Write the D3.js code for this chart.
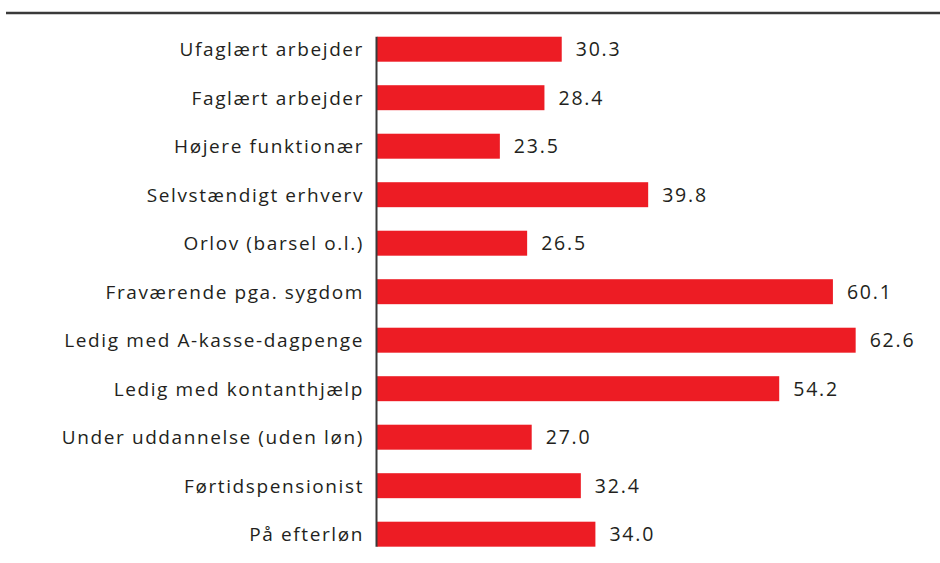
<!DOCTYPE html>
<html>
<head>
<meta charset="utf-8">
<script src="https://cdn.jsdelivr.net/npm/d3@7"></script>
<style>
  body { margin: 0; background: #fff; }
  text { font-family: 'Open Sans', sans-serif; fill: #231f20; }
</style>
</head>
<body>
<script>
const categories = [
  'Ufaglært arbejder',
  'Faglært arbejder',
  'Højere funktionær',
  'Selvstændigt erhverv',
  'Orlov (barsel o.l.)',
  'Fraværende pga. sygdom',
  'Ledig med A-kasse-dagpenge',
  'Ledig med kontanthjælp',
  'Under uddannelse (uden løn)',
  'Førtidspensionist',
  'På efterløn'
];
const values = [30.3, 28.4, 23.5, 39.8, 26.5, 60.1, 62.6, 54.2, 27.0, 32.4, 34.0];

const W = 940, H = 563;
const svg = d3.select('body').append('svg')
  .attr('width', W)
  .attr('height', H);

const xScale = d3.scaleLinear().domain([10, 70]).range([377, 923]);
const yScale = d3.scaleBand()
  .domain(categories)
  .range([13.2, 570.2])
  .padding(0.485);

// top rule
svg.append('line')
  .attr('x1', 6).attr('x2', W)
  .attr('y1', 13).attr('y2', 13)
  .attr('stroke', '#3a3a3a')
  .attr('stroke-width', 2.5);

svg.selectAll('rect.bar')
  .data(values)
  .enter()
  .append('rect')
  .attr('class', 'bar')
  .attr('x', xScale(10))
  .attr('y', (d, i) => yScale(categories[i]))
  .attr('width', (d) => xScale(d) - xScale(10))
  .attr('height', yScale.bandwidth())
  .attr('fill', '#ed1c24');

// value labels
svg.selectAll('text.val')
  .data(values)
  .enter()
  .append('text')
  .attr('class', 'val')
  .attr('x', (d) => xScale(d) + 14)
  .attr('y', (d, i) => yScale(categories[i]) + yScale.bandwidth() / 2)
  .attr('dy', '.36em')
  .attr('font-size', 19.5)
  .attr('letter-spacing', 1.8)
  .text((d) => d.toFixed(1));

// category labels
svg.selectAll('text.cat')
  .data(categories)
  .enter()
  .append('text')
  .attr('class', 'cat')
  .attr('x', 364)
  .attr('y', (d) => yScale(d) + yScale.bandwidth() / 2)
  .attr('dy', '.36em')
  .attr('text-anchor', 'end')
  .attr('font-size', 19)
  .attr('letter-spacing', 1.6)
  .text((d) => d);

// vertical axis line
svg.append('line')
  .attr('x1', 376.5).attr('x2', 376.5)
  .attr('y1', yScale(categories[0]))
  .attr('y2', yScale(categories[categories.length - 1]) + yScale.bandwidth())
  .attr('stroke', '#3a3a3a')
  .attr('stroke-width', 2);
</script>
</body>
</html>
